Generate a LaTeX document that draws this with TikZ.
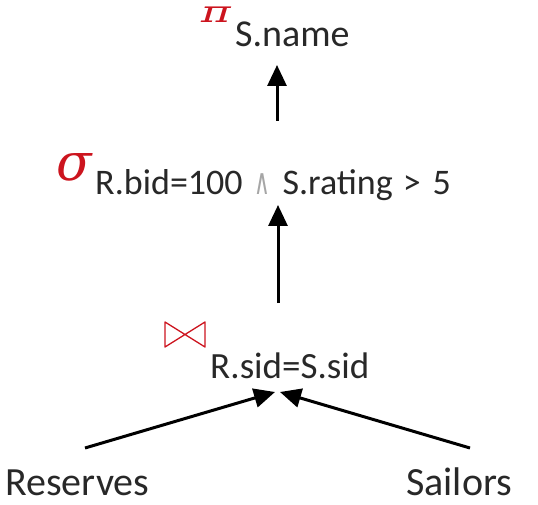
\documentclass[tikz,border=0pt]{standalone}
\usepackage{fontspec}
\usepackage{graphicx}
\setmainfont{Carlito}
\newfontfamily\opfont{DejaVu Serif}
\newfontfamily\symfont{DejaVu Sans}
\usetikzlibrary{arrows.meta}
\definecolor{opred}{RGB}{204,20,30}
\definecolor{txt}{RGB}{40,40,40}
\tikzset{
  opsym/.style={inner sep=0pt, text=opred},
  attr/.style={inner sep=0pt, text=txt, font=\fontsize{37}{40}\selectfont},
  leaf/.style={inner sep=0pt, text depth=0pt, text=txt, font=\fontsize{40}{44}\selectfont},
  arr/.style={-{Triangle[length=21pt,width=19pt]}, line width=3pt},
}
\begin{document}
\begin{tikzpicture}[x=1pt,y=-1pt]
\useasboundingbox (0,0) rectangle (538,505);
% operators
\node[opsym, anchor=base west, font=\opfont\itshape\fontsize{30}{30}\selectfont] (pisym) at (201,23) {\scalebox{1.5}[1]{π}};
\node[attr, anchor=base west, font=\fontsize{38}{40}\selectfont] (proj) at (235,47) {S.name};
\node[opsym, anchor=base west, font=\opfont\itshape\fontsize{52}{56}\selectfont] (sigsym) at (56,181) {σ};
\node[attr, anchor=base west, font=\fontsize{36}{40}\selectfont] (sel) at (95,195)
  {R.bid=100\hspace{12pt}{\symfont\fontsize{36}{36}\selectfont\color{black!35}\scalebox{0.6}[1]{∧}}\hspace{12pt}S.rating\hspace{10pt}>\hspace{12pt}5};
\draw[opred, line width=1.3pt, line join=round] (165,322)--(205,347)--(205,322)--(165,347)--cycle;
\node[attr, anchor=base west] (join) at (210,378) {R.sid=S.sid};
% relations
\node[leaf, anchor=base west] (res) at (5,495) {Reserves};
\node[leaf, anchor=base west] (sai) at (406,495) {Sailors};
% connectors
\coordinate (projin) at (277,65);
\coordinate (selout) at (277,121);
\coordinate (selin) at (278,205);
\coordinate (joinout) at (278,303);
\coordinate (joinl) at (275,392);
\coordinate (joinr) at (280,392);
\coordinate (resout) at (85,448);
\coordinate (saiout) at (470,448);
\draw[arr] (selout) -- (projin);
\draw[arr] (joinout) -- (selin);
\draw[arr] (resout) -- (joinl);
\draw[arr] (saiout) -- (joinr);
\end{tikzpicture}
\end{document}
